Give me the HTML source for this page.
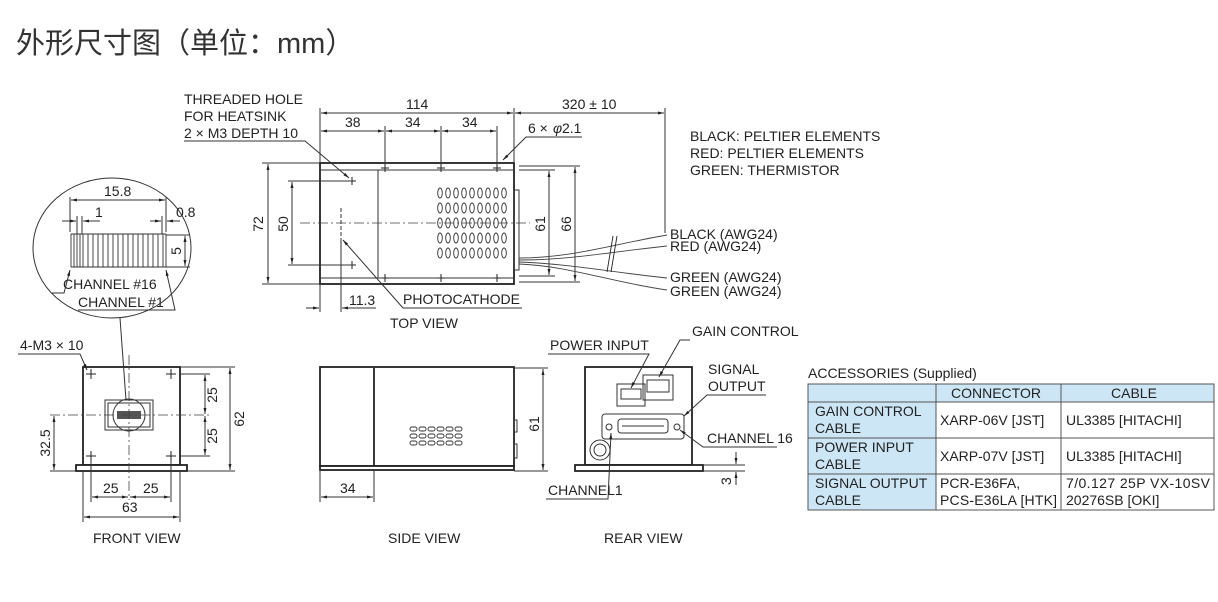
<!DOCTYPE html>
<html><head><meta charset="utf-8"><style>
body{margin:0;background:#fff;}
svg{display:block;font-family:"Liberation Sans",Arial,sans-serif;}
.t{font-size:14px;fill:#222;}
.l{stroke:#333;stroke-width:1;fill:none;}
.b{stroke:#222;stroke-width:1.8;fill:#fff;}
.c{stroke:#444;stroke-width:0.8;fill:none;stroke-dasharray:10 3 2 3;}
</style></head><body>
<svg width="1218" height="602" viewBox="0 0 1218 602">
<defs>
<marker id="a" viewBox="0 0 10 10" refX="10" refY="5" markerWidth="10" markerHeight="6" orient="auto-start-reverse"><path d="M0,2.5L10,5L0,7.5z" fill="#222"/></marker>
</defs>
<text x="16" y="53" style="font-family:'Liberation Sans','Noto Sans CJK SC',sans-serif;font-size:29px;fill:#333">外形尺寸图（单位：mm）</text>

<!-- TOP VIEW -->
<g>
<rect class="b" x="320" y="163" width="194" height="121"/>
<line class="l" x1="378" y1="170" x2="378" y2="278"/><line class="l" x1="320" y1="170" x2="514" y2="170"/><line class="l" x1="320" y1="278" x2="514" y2="278"/>
<rect class="l" x="514" y="190" width="5" height="80"/>
<g fill="none" stroke="#333" stroke-width="0.9">
<g id="gr"><ellipse cx="440" cy="193" rx="2.3" ry="5"/><ellipse cx="448" cy="193" rx="2.3" ry="5"/><ellipse cx="456" cy="193" rx="2.3" ry="5"/><ellipse cx="464" cy="193" rx="2.3" ry="5"/><ellipse cx="472" cy="193" rx="2.3" ry="5"/><ellipse cx="480" cy="193" rx="2.3" ry="5"/><ellipse cx="488" cy="193" rx="2.3" ry="5"/><ellipse cx="496" cy="193" rx="2.3" ry="5"/><ellipse cx="504" cy="193" rx="2.3" ry="5"/></g>
<use href="#gr" y="15"/><use href="#gr" y="30"/><use href="#gr" y="45"/><use href="#gr" y="60"/>
</g>
<line class="c" x1="300" y1="223" x2="530" y2="223"/>
<line class="l" x1="341" y1="208" x2="341" y2="238" stroke-dasharray="4 2"/>
<g stroke="#222" stroke-width="1">
<path d="M381,168h8M385,164v8M437,168h8M441,164v8M493,168h8M497,164v8M381,278h8M385,274v8M437,278h8M441,274v8M493,278h8M497,274v8M348,181h8M352,177v8M348,265h8M352,261v8"/>
</g>
<line class="l" x1="320" y1="108" x2="320" y2="163"/><line class="l" x1="514" y1="108" x2="514" y2="163"/><line class="l" x1="665" y1="108" x2="665" y2="233"/>
<line class="l" x1="385" y1="126" x2="385" y2="163"/><line class="l" x1="441" y1="126" x2="441" y2="163"/><line class="l" x1="497" y1="126" x2="497" y2="163"/>
<line class="l" x1="321" y1="113" x2="513" y2="113" marker-start="url(#a)" marker-end="url(#a)"/>
<line class="l" x1="515" y1="113" x2="664" y2="113" marker-start="url(#a)" marker-end="url(#a)"/>
<line class="l" x1="321" y1="131" x2="384" y2="131" marker-start="url(#a)" marker-end="url(#a)"/>
<line class="l" x1="386" y1="131" x2="440" y2="131" marker-start="url(#a)" marker-end="url(#a)"/>
<line class="l" x1="442" y1="131" x2="496" y2="131" marker-start="url(#a)" marker-end="url(#a)"/>
<text class="t" x="406" y="109">114</text><text class="t" x="562" y="109">320 ± 10</text>
<text class="t" x="345" y="127">38</text><text class="t" x="405" y="127">34</text><text class="t" x="462" y="127">34</text>
<text class="t" x="528" y="133">6 ×</text><text class="t" x="553" y="133" font-style="italic">φ</text><text class="t" x="562" y="133">2.1</text>
<path class="l" d="M582,137H526L503,160" marker-end="url(#a)"/>
<line class="l" x1="262" y1="163" x2="320" y2="163"/><line class="l" x1="262" y1="284" x2="320" y2="284"/>
<line class="l" x1="268" y1="164" x2="268" y2="283" marker-start="url(#a)" marker-end="url(#a)"/>
<line class="l" x1="288" y1="181" x2="352" y2="181"/><line class="l" x1="288" y1="265" x2="352" y2="265"/>
<line class="l" x1="292" y1="182" x2="292" y2="264" marker-start="url(#a)" marker-end="url(#a)"/>
<text class="t" transform="translate(263,224) rotate(-90)" text-anchor="middle">72</text>
<text class="t" transform="translate(288,224) rotate(-90)" text-anchor="middle">50</text>
<line class="l" x1="519" y1="170" x2="555" y2="170"/><line class="l" x1="519" y1="276" x2="555" y2="276"/>
<line class="l" x1="549" y1="171" x2="549" y2="275" marker-start="url(#a)" marker-end="url(#a)"/>
<line class="l" x1="519" y1="166" x2="580" y2="166"/><line class="l" x1="519" y1="282" x2="580" y2="282"/>
<line class="l" x1="575" y1="167" x2="575" y2="281" marker-start="url(#a)" marker-end="url(#a)"/>
<text class="t" transform="translate(545,224) rotate(-90)" text-anchor="middle">61</text>
<text class="t" transform="translate(571,224) rotate(-90)" text-anchor="middle">66</text>
<line class="l" x1="320" y1="284" x2="320" y2="312"/><line class="l" x1="341" y1="238" x2="341" y2="312"/>
<line class="l" x1="306" y1="308" x2="319" y2="308" marker-end="url(#a)"/><line class="l" x1="376" y1="308" x2="342" y2="308" marker-end="url(#a)"/>
<text class="t" x="349" y="305">11.3</text>
<path class="l" d="M522,308H403L343,240" marker-end="url(#a)"/>
<text class="t" x="403" y="304">PHOTOCATHODE</text>
<text class="t" x="390" y="328">TOP VIEW</text>
<text class="t" x="184" y="104">THREADED HOLE</text><text class="t" x="184" y="121">FOR HEATSINK</text><text class="t" x="184" y="138">2 × M3 DEPTH 10</text>
<path class="l" d="M184,141H305L349,178" marker-end="url(#a)"/>
<g stroke="#444" stroke-width="0.9" fill="none">
<path d="M519,258C570,258 610,245 667,235"/><path d="M519,260C570,260 610,252 667,246"/>
<path d="M519,262C570,264 610,272 667,278"/><path d="M519,264C570,266 610,282 667,290"/>
<path d="M607,272L613,236M611,272L617,236" stroke="#222"/>
</g>
<text class="t" x="670" y="239">BLACK (AWG24)</text><text class="t" x="670" y="251">RED (AWG24)</text>
<text class="t" x="670" y="282">GREEN (AWG24)</text><text class="t" x="670" y="296">GREEN (AWG24)</text>
<text class="t" x="690" y="141">BLACK: PELTIER ELEMENTS</text><text class="t" x="690" y="158">RED: PELTIER ELEMENTS</text><text class="t" x="690" y="175">GREEN: THERMISTOR</text>
</g>

<!-- DETAIL CIRCLE -->
<ellipse cx="112" cy="248" rx="79" ry="70" class="l"/>
<g stroke="#333" stroke-width="0.9" fill="none">
<path d="M71,234h95M71,267h95"/>
<path d="M71,234v33M74,234v33M77,234v33M80,234v33M83,234v33M88,234v33M93,234v33M98,234v33M103,234v33M108,234v33M113,234v33M118,234v33M123,234v33M128,234v33M133,234v33M138,234v33M143,234v33M148,234v33M153,234v33M158,234v33M163,234v33M166,234v33"/>
</g>
<line class="l" x1="70" y1="197" x2="70" y2="232"/><line class="l" x1="166" y1="197" x2="166" y2="232"/>
<line class="l" x1="71" y1="200" x2="165" y2="200" marker-start="url(#a)" marker-end="url(#a)"/>
<text class="t" x="104" y="196">15.8</text>
<line class="l" x1="77" y1="216" x2="77" y2="234"/><line class="l" x1="82" y1="216" x2="82" y2="234"/><line class="l" x1="162" y1="216" x2="162" y2="234"/>
<line class="l" x1="62" y1="221" x2="76" y2="221" marker-end="url(#a)"/><line class="l" x1="100" y1="221" x2="83" y2="221" marker-end="url(#a)"/>
<text class="t" x="95" y="217">1</text>
<line class="l" x1="150" y1="221" x2="161" y2="221" marker-end="url(#a)"/><line class="l" x1="180" y1="221" x2="167" y2="221" marker-end="url(#a)"/>
<text class="t" x="176" y="217">0.8</text>
<line class="l" x1="166" y1="235" x2="190" y2="235"/><line class="l" x1="166" y1="267" x2="190" y2="267"/>
<line class="l" x1="185" y1="236" x2="185" y2="266" marker-start="url(#a)" marker-end="url(#a)"/>
<text class="t" transform="translate(181,251) rotate(-90)" text-anchor="middle">5</text>
<text class="t" x="63" y="289">CHANNEL #16</text><text class="t" x="78" y="307">CHANNEL #1</text>
<path class="l" d="M52,293H64L70,270" marker-end="url(#a)"/>
<path class="l" d="M78,310H175L166,270" marker-end="url(#a)"/>

<!-- FRONT VIEW -->
<rect class="b" x="83" y="367" width="97" height="98"/>
<rect class="b" x="76" y="465" width="111" height="6"/>
<rect class="l" x="105" y="400" width="48" height="30"/><rect class="l" x="108" y="403" width="42" height="24"/>
<circle cx="129" cy="415" r="16" class="l" fill="#fff"/>
<rect x="117" y="411" width="24" height="8" fill="#555"/>
<line class="c" x1="50" y1="415" x2="212" y2="415"/>
<line class="c" x1="129" y1="355" x2="129" y2="500"/>
<line class="l" x1="120" y1="318" x2="126" y2="400"/>
<g stroke="#222" stroke-width="1"><path d="M86,374h10M91,369v10M166,374h10M171,369v10M86,456h10M91,451v10M166,456h10M171,451v10"/></g>
<text class="t" x="20" y="350">4-M3 × 10</text>
<path class="l" d="M18,354H80L87,370" marker-end="url(#a)"/>
<line class="l" x1="180" y1="374" x2="210" y2="374"/><line class="l" x1="180" y1="456" x2="210" y2="456"/>
<line class="l" x1="205" y1="375" x2="205" y2="414" marker-start="url(#a)" marker-end="url(#a)"/>
<line class="l" x1="205" y1="416" x2="205" y2="455" marker-start="url(#a)" marker-end="url(#a)"/>
<text class="t" transform="translate(217,395) rotate(-90)" text-anchor="middle">25</text>
<text class="t" transform="translate(217,436) rotate(-90)" text-anchor="middle">25</text>
<line class="l" x1="180" y1="367" x2="235" y2="367"/><line class="l" x1="187" y1="471" x2="235" y2="471"/>
<line class="l" x1="230" y1="368" x2="230" y2="470" marker-start="url(#a)" marker-end="url(#a)"/>
<text class="t" transform="translate(244,419) rotate(-90)" text-anchor="middle">62</text>
<line class="l" x1="50" y1="471" x2="76" y2="471"/>
<line class="l" x1="54" y1="416" x2="54" y2="470" marker-start="url(#a)" marker-end="url(#a)"/>
<text class="t" transform="translate(50,443) rotate(-90)" text-anchor="middle">32.5</text>
<line class="l" x1="91" y1="461" x2="91" y2="502"/><line class="l" x1="171" y1="461" x2="171" y2="502"/>
<line class="l" x1="92" y1="497" x2="128" y2="497" marker-start="url(#a)" marker-end="url(#a)"/>
<line class="l" x1="130" y1="497" x2="170" y2="497" marker-start="url(#a)" marker-end="url(#a)"/>
<text class="t" x="103" y="493">25</text><text class="t" x="143" y="493">25</text>
<line class="l" x1="83" y1="471" x2="83" y2="522"/><line class="l" x1="180" y1="471" x2="180" y2="522"/>
<line class="l" x1="84" y1="517" x2="179" y2="517" marker-start="url(#a)" marker-end="url(#a)"/>
<text class="t" x="122" y="512">63</text>
<text class="t" x="93" y="543">FRONT VIEW</text>

<!-- SIDE VIEW -->
<rect class="b" x="320" y="367" width="194" height="99"/>
<line class="b" x1="374" y1="368" x2="374" y2="466"/>
<rect class="b" x="320" y="466" width="194" height="4"/>
<rect class="l" x="514" y="420" width="3" height="12"/><rect class="l" x="514" y="444" width="3" height="14"/>
<g fill="none" stroke="#333" stroke-width="0.9">
<g id="gs"><rect x="410" y="427" width="7" height="4" rx="2"/><rect x="419" y="427" width="7" height="4" rx="2"/><rect x="428" y="427" width="7" height="4" rx="2"/><rect x="437" y="427" width="7" height="4" rx="2"/><rect x="446" y="427" width="7" height="4" rx="2"/><rect x="455" y="427" width="7" height="4" rx="2"/></g>
<use href="#gs" y="7"/><use href="#gs" y="14"/>
</g>
<line class="l" x1="514" y1="368" x2="548" y2="368"/><line class="l" x1="514" y1="471" x2="548" y2="471"/>
<line class="l" x1="543" y1="369" x2="543" y2="470" marker-start="url(#a)" marker-end="url(#a)"/>
<text class="t" transform="translate(539,424) rotate(-90)" text-anchor="middle">61</text>
<line class="l" x1="320" y1="471" x2="320" y2="502"/><line class="l" x1="374" y1="471" x2="374" y2="502"/>
<line class="l" x1="321" y1="497" x2="373" y2="497" marker-start="url(#a)" marker-end="url(#a)"/>
<text class="t" x="340" y="493">34</text>
<text class="t" x="388" y="543">SIDE VIEW</text>

<!-- REAR VIEW -->
<rect class="b" x="585" y="367" width="107" height="98"/>
<rect class="b" x="575" y="465" width="128" height="6"/>
<rect class="l" x="617" y="384" width="28" height="22"/><rect class="l" x="621" y="389" width="20" height="10"/>
<rect class="l" x="643" y="375" width="30" height="25"/><rect class="l" x="647" y="380" width="22" height="12"/>
<rect class="l" x="602" y="414" width="82" height="25" rx="3"/><rect class="l" x="618" y="419" width="50" height="14" rx="3"/>
<circle cx="609" cy="427" r="3" class="l"/><circle cx="677" cy="427" r="3" class="l"/>
<line class="l" x1="622" y1="426" x2="664" y2="426" stroke-width="2"/>
<circle cx="600" cy="450" r="10" class="l"/><circle cx="600" cy="450" r="6" class="l"/>
<text class="t" x="550" y="350">POWER INPUT</text>
<path class="l" d="M548,354H649L631,388" marker-end="url(#a)"/>
<text class="t" x="692" y="336">GAIN CONTROL</text>
<path class="l" d="M690,340H680L659,377" marker-end="url(#a)"/>
<text class="t" x="708" y="374">SIGNAL</text><text class="t" x="708" y="391">OUTPUT</text>
<path class="l" d="M766,395H707L684,416" marker-end="url(#a)"/>
<text class="t" x="707" y="443">CHANNEL 16</text>
<path class="l" d="M777,447H703L680,430" marker-end="url(#a)"/>
<text class="t" x="548" y="495">CHANNEL1</text>
<path class="l" d="M546,499H608L611,433" marker-end="url(#a)"/>
<line class="l" x1="703" y1="465" x2="745" y2="465"/><line class="l" x1="703" y1="471" x2="745" y2="471"/>
<line class="l" x1="736" y1="452" x2="736" y2="464" marker-end="url(#a)"/><line class="l" x1="736" y1="485" x2="736" y2="472" marker-end="url(#a)"/>
<text class="t" transform="translate(731,485) rotate(-90)">3</text>
<text class="t" x="604" y="543">REAR VIEW</text>

<!-- TABLE -->
<text class="t" x="808" y="378">ACCESSORIES (Supplied)</text>
<rect x="808" y="384" width="406" height="18" fill="#cde6f5"/>
<rect x="808" y="402" width="128" height="108" fill="#cde6f5"/>
<g stroke="#555" stroke-width="1" fill="none">
<rect x="808" y="384" width="406" height="126"/>
<path d="M808,402H1214M808,438H1214M808,474H1214M936,384V510M1061,384V510"/>
</g>
<text class="t" x="951" y="398">CONNECTOR</text><text class="t" x="1111" y="398">CABLE</text>
<text class="t" x="815" y="416">GAIN CONTROL</text><text class="t" x="815" y="433">CABLE</text>
<text class="t" x="815" y="452">POWER INPUT</text><text class="t" x="815" y="469">CABLE</text>
<text class="t" x="815" y="488">SIGNAL OUTPUT</text><text class="t" x="815" y="505">CABLE</text>
<text class="t" x="940" y="425">XARP-06V [JST]</text><text class="t" x="1066" y="425">UL3385 [HITACHI]</text>
<text class="t" x="940" y="461">XARP-07V [JST]</text><text class="t" x="1066" y="461">UL3385 [HITACHI]</text>
<text class="t" x="940" y="488">PCR-E36FA,</text><text class="t" x="940" y="505" textLength="117">PCS-E36LA [HTK]</text>
<text class="t" x="1066" y="488" textLength="144">7/0.127 25P VX-10SV</text><text class="t" x="1066" y="505">20276SB [OKI]</text>
</svg>
</body></html>
